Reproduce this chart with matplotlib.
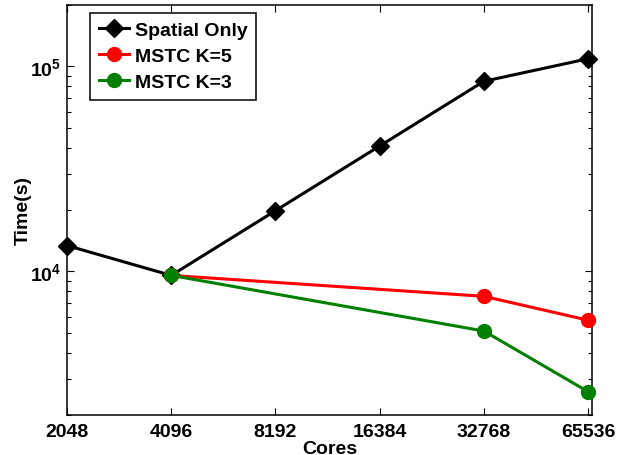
import matplotlib
matplotlib.use("Agg")
import matplotlib.pyplot as plt
from matplotlib.ticker import FixedLocator, FixedFormatter, LogLocator, NullFormatter, NullLocator

plt.rcParams['font.family'] = ['Liberation Sans', 'DejaVu Sans']
plt.rcParams['font.weight'] = 'bold'
plt.rcParams['mathtext.fontset'] = 'custom'
plt.rcParams['mathtext.rm'] = 'Liberation Sans:bold'
plt.rcParams['mathtext.bf'] = 'Liberation Sans:bold'
plt.rcParams['mathtext.it'] = 'Liberation Sans:bold'

cores = [2048, 4096, 8192, 16384, 32768, 65536]
spatial_only = [13370, 9560, 19770, 40900, 84600, 109000]
mstc_cores = [4096, 32768, 65536]
mstc_k5 = [9560, 7560, 5780]
mstc_k3 = [9560, 5120, 2590]
x_tick_labels = ['2048', '4096', '8192', '16384', '32768', '65536']

fig = plt.figure(figsize=(6.18, 4.56), dpi=100)
ax = fig.add_axes([0.1084, 0.0884, 0.958 - 0.1084, 0.9875 - 0.0884])

ax.plot(cores, spatial_only, color='black', lw=2.2, marker='D', ms=9.5, label='Spatial Only', clip_on=False, zorder=3)
ax.plot(mstc_cores, mstc_k5, color='#ff0000', lw=2.2, marker='o', ms=10, label='MSTC K=5', clip_on=False, zorder=4)
ax.plot(mstc_cores, mstc_k3, color='#008000', lw=2.2, marker='o', ms=10, label='MSTC K=3', clip_on=False, zorder=5)

ax.set_xscale('log', base=2)
ax.set_yscale('log')
ax.set_xlim(2048, 67280)
ax.set_ylim(2000, 200000)

ax.xaxis.set_major_locator(FixedLocator(cores))
ax.xaxis.set_major_formatter(FixedFormatter(x_tick_labels))
ax.xaxis.set_minor_locator(NullLocator())

ax.yaxis.set_major_locator(FixedLocator([1e4, 1e5]))
ax.yaxis.set_major_formatter(FixedFormatter([r'$\mathbf{10^{4}}$', r'$\mathbf{10^{5}}$']))
ax.yaxis.set_minor_locator(LogLocator(base=10, subs=range(2, 10)))
ax.yaxis.set_minor_formatter(NullFormatter())

ax.tick_params(which='both', direction='in', top=True, right=True, labelsize=14)
ax.tick_params(which='major', length=5, width=0.8)
ax.tick_params(which='minor', length=3, width=0.8)
ax.tick_params(axis='x', pad=6)
ax.tick_params(axis='y', pad=4)
for s in ax.spines.values():
    s.set_linewidth(1.1)

ax.set_xlabel('Cores', fontsize=14, fontweight='bold', labelpad=0)
ax.set_ylabel('Time(s)', fontsize=14, fontweight='bold', labelpad=-1)

leg = ax.legend(loc='upper left', bbox_to_anchor=(0.0438, 0.98), borderaxespad=0,
                fontsize=14, fancybox=False, framealpha=1, edgecolor='black',
                handlelength=1.55, handletextpad=0.3, labelspacing=0.42, borderpad=0.45)
leg.get_frame().set_linewidth(1.1)

fig.savefig('out.png', dpi=100)
